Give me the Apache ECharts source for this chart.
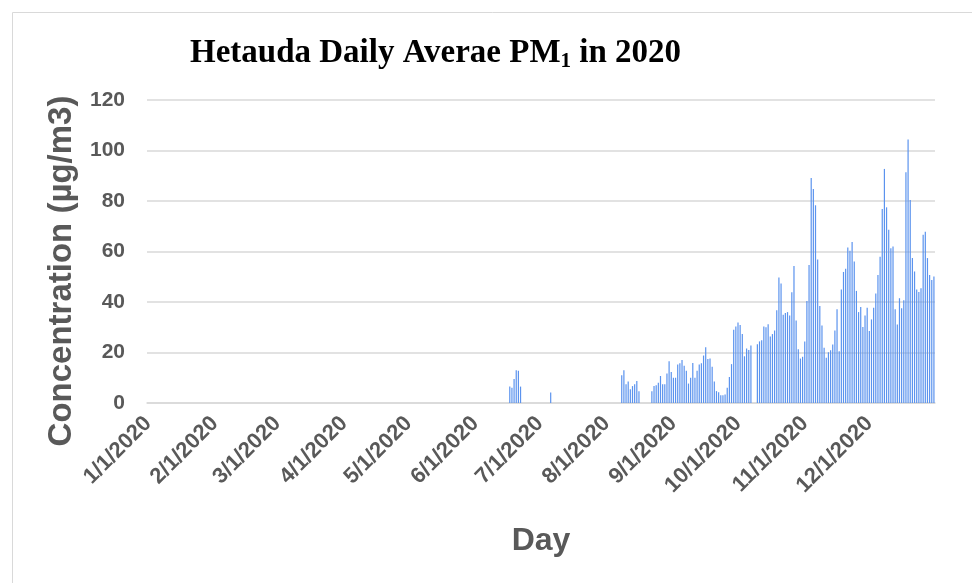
<!DOCTYPE html>
<html>
<head>
<meta charset="utf-8">
<script src="https://cdn.jsdelivr.net/npm/echarts@6/dist/echarts.min.js"></script>
<style>
  html, body { margin: 0; padding: 0; background: #fff; }
  #chart { width: 972px; height: 583px; }
</style>
</head>
<body>
<div id="chart"></div>
<script>
// daily PM1 readings, grouped by runs of consecutive days (gaps = no data)
const juneStart = '6/17/2020';
const juneVals = [6.5, 6.0, 9.5, 13.0, 12.8, 6.5];

const julyStart = '7/6/2020';
const julyVals = [4.2];

const augStart = '8/8/2020';
const augVals = [11, 13, 7.4, 8.5, 5.4, 6.7, 7.4, 8.7, 4.7];

const lateAugStart = '8/22/2020';
const lateAugVals = [
  4.7, 6.7, 7, 8, 10.7, 7.4, 7.4, 11.7, 16.5, 12.3, 10, 10, 15.2, 15.7, 17, 14.8,
  12.8, 7.7, 10, 15.8, 10, 12.8, 15.2, 15.7, 18.8, 22.1, 17.4, 17.6, 14.4, 8.5,
  4.7, 4.3, 3.1, 3.1, 3.4, 6, 10.3, 15.4,
  29, 30.3, 31.9, 30.9, 27.3, 18.5, 21.6, 21, 22.8
];

const octStart = '10/10/2020';
const octVals = [
  23.3, 24.4, 24.9, 30.3, 30, 31.2, 26.3, 27.3, 28.7, 36.7, 49.7, 47.3, 35, 35.6,
  36, 34.7, 43.9, 54.3, 32.7, 21.3, 17.6, 18.3, 24.4,
  40.4, 54.7, 89.1, 84.8, 78.3, 56.8, 38.4, 30.7, 21.9, 17.9, 20.1, 20.9, 23.2,
  28.7, 37.1, 20.5, 45, 51.9, 53.2, 61.6, 60.3, 63.8, 56, 44.4, 36, 38, 30.1,
  34.7, 37.7, 28.5,
  33.1, 37.7, 43.4, 50.7, 57.9, 76.8, 92.7, 77.5, 68.6, 61.3, 62, 37.1, 31.1,
  41.5, 37.5, 40.7, 91.4, 104.4, 80.4, 57.4, 52.1, 45, 44, 45.4, 66.6, 67.8,
  57.4, 50.7, 48.7, 50.1
];

const yTicks = [0, 20, 40, 60, 80, 100, 120];

// every day of 2020 as m/d/yyyy
const days = [];
for (let d = new Date(2020, 0, 1); d.getFullYear() === 2020; d.setDate(d.getDate() + 1)) {
  days.push((d.getMonth() + 1) + '/' + d.getDate() + '/2020');
}

const values = days.map(() => null);
[[juneStart, juneVals], [julyStart, julyVals], [augStart, augVals],
 [lateAugStart, lateAugVals], [octStart, octVals]].forEach(([start, vals]) => {
  const i0 = days.indexOf(start);
  vals.forEach((v, k) => { values[i0 + k] = v; });
});

const isMonthStart = (i, v) => (v || days[i]).split('/')[1] === '1';
const grey = '#595959';

const chart = echarts.init(document.getElementById('chart'), null, { renderer: 'canvas' });
chart.setOption({
  animation: false,
  grid: { left: 147, right: 37, top: 100, bottom: 180 },
  graphic: [
    {
      type: 'rect', left: 10, top: 10, silent: true,
      shape: { width: 975, height: 571 },
      style: { fill: 'none', stroke: '#d9d9d9', lineWidth: 1 }
    },
    {
      type: 'text', left: 190, top: 37,
      style: {
        text: '{t|Hetauda Daily Averae PM}{s|1}{t| in 2020}',
        rich: {
          t: { fontFamily: 'Liberation Serif', fontWeight: 'bold', fontSize: 33, fill: '#000' },
          s: { fontFamily: 'Liberation Serif', fontWeight: 'bold', fontSize: 21, fill: '#000', padding: [16, 0, 0, 0] }
        }
      }
    },
    {
      type: 'text', x: 62, y: 271, rotation: Math.PI / 2,
      style: {
        text: 'Concentration (µg/m3)', fill: grey,
        fontFamily: 'Liberation Sans', fontWeight: 'bold', fontSize: 33,
        align: 'center', verticalAlign: 'middle'
      }
    }
  ],
  xAxis: {
    type: 'category',
    data: days,
    name: 'Day',
    nameLocation: 'middle',
    nameGap: 122,
    nameTextStyle: { color: grey, fontFamily: 'Liberation Sans', fontWeight: 'bold', fontSize: 32 },
    axisLine: { lineStyle: { color: '#d9d9d9', width: 1.5 } },
    axisTick: { interval: isMonthStart, length: 6, lineStyle: { color: '#d9d9d9', width: 1.5 } },
    axisLabel: {
      interval: isMonthStart, rotate: 45, margin: 17,
      color: grey, fontFamily: 'Liberation Sans', fontWeight: 'bold', fontSize: 22
    }
  },
  yAxis: {
    type: 'value',
    min: yTicks[0], max: yTicks[yTicks.length - 1], interval: 20,
    axisLine: { show: false },
    axisTick: { show: false },
    axisLabel: {
      margin: 22, color: grey,
      fontFamily: 'Liberation Sans', fontWeight: 'bold', fontSize: 21
    },
    splitLine: { lineStyle: { color: '#d9d9d9', width: 1.5 } }
  },
  series: [
    {
      type: 'bar',
      data: values,
      barWidth: 1.2,
      itemStyle: { color: '#5b93ee' }
    }
  ]
});
</script>
</body>
</html>
